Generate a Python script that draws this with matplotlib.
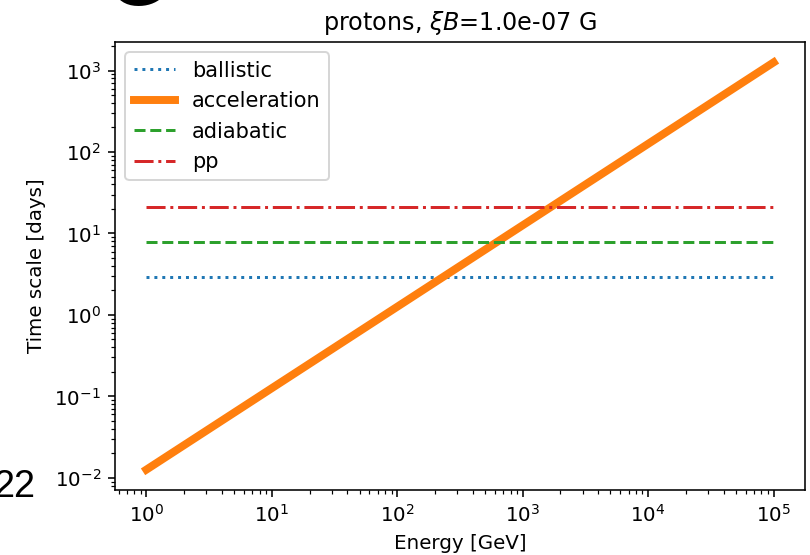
import matplotlib
matplotlib.use("Agg")
import matplotlib.pyplot as plt

# Data
energy = [1.0, 1.0e5]                 # GeV
ballistic = [2.9, 2.9]                # days
acceleration = [0.0126, 1260.0]       # days
adiabatic = [7.9, 7.9]                # days
pp = [21.3, 21.3]                     # days

title = r"protons, $\xi B$=1.0e-07 G"

DPI = 143
fig = plt.figure(figsize=(810 / DPI, 555 / DPI), dpi=DPI)
ax = fig.add_axes([115 / 810, 1 - 490 / 555, 690 / 810, 448 / 555])

ax.plot(energy, ballistic, ":", color="C0", label="ballistic")
ax.plot(energy, acceleration, "-", color="C1", lw=4, label="acceleration")
ax.plot(energy, adiabatic, "--", color="C2", label="adiabatic")
ax.plot(energy, pp, "-.", color="C3", label="pp")

ax.set_xscale("log")
ax.set_yscale("log")
ax.set_xlabel("Energy [GeV]")
ax.set_ylabel("Time scale [days]")
ax.set_title(title, fontsize=12)
ax.legend(loc="upper left", fontsize=10.5)

# Surrounding-document fragments visible in the reference crop
fig.text(35 / 810, 1 - 497 / 555, "22", ha="right", va="baseline",
         fontsize=19, family="Liberation Sans", color="black")
fig.text(138 / 810, 1 - 5 / 555, "G", ha="center", va="baseline",
         fontsize=40, family="Liberation Sans", color="black")

fig.savefig("out.png", dpi=DPI)
